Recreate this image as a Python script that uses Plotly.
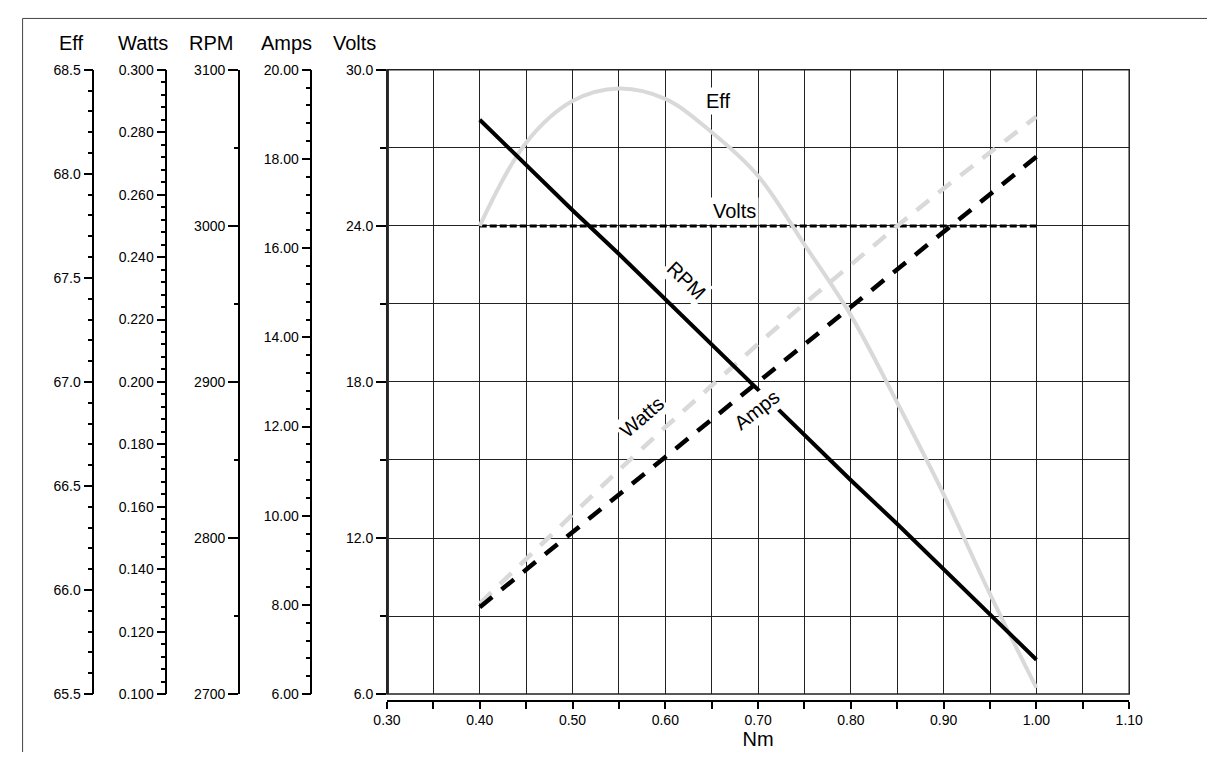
import plotly.graph_objects as go

# --- data (torque sweep) ---
nm = [0.40, 0.45, 0.50, 0.55, 0.60, 0.65, 0.70, 0.75, 0.80, 0.85, 0.90, 0.95, 1.00]
eff = [67.75, 68.15, 68.35, 68.41, 68.36, 68.20, 67.99, 67.66, 67.32, 66.90, 66.46, 65.98, 65.53]
watts = [0.129, 0.1432, 0.1576, 0.1718, 0.1855, 0.1990, 0.2122, 0.2251, 0.2377, 0.2500, 0.2620, 0.2737, 0.2850]
rpm = [3068, 3039, 3010, 2982, 2953, 2924, 2895, 2866, 2837, 2809, 2780, 2751, 2722]
amps = [7.95, 8.79, 9.63, 10.48, 11.32, 12.16, 13.00, 13.84, 14.68, 15.53, 16.37, 17.21, 18.05]
volts = [24.0, 24.0, 24.0, 24.0, 24.0, 24.0, 24.0, 24.0, 24.0, 24.0, 24.0, 24.0, 24.0]

# --- styling ---
FONT = "Liberation Sans, Arial, sans-serif"
TICK_FONT = dict(family=FONT, size=14, color="black")
LABEL_FONT = dict(family=FONT, size=20, color="black")
GRID = "#222222"
LIGHT = "#d9d9d9"

# the page body keeps its default 8px margin, so the figure is 16px smaller
# than the window and every screen position is shifted by OFF
OFF = 8
W, H = 1215 - 2 * OFF, 760 - 2 * OFF


def px(v):
    return (v - OFF) / W


def py(v):
    return 1 - (v - OFF) / H


X0, X1 = px(381.7), px(1141.7)
Y0, Y1 = py(701), py(63)


def rng(lo, hi):
    eps = (hi - lo) * 1e-6
    return [lo - eps, hi + eps]


def side_axis(pos, lo, hi, dtick, minor_dtick, fmt, ticklen=9, minor_len=5):
    return dict(
        anchor="free", position=pos, overlaying="y", side="left",
        range=rng(lo, hi), tick0=lo, dtick=dtick, tickformat=fmt,
        showline=True, linecolor="black", linewidth=1.5,
        ticks="outside", ticklen=ticklen, tickwidth=1.5, tickcolor="black",
        tickfont=TICK_FONT, showgrid=False, zeroline=False,
        minor=dict(dtick=minor_dtick, ticks="outside", ticklen=minor_len,
                   tickwidth=1.5, tickcolor="black", showgrid=False),
    )


fig = go.Figure()
fig.add_trace(go.Scatter(x=nm, y=eff, yaxis="y2", mode="lines", name="Eff",
                         line=dict(color=LIGHT, width=4, shape="spline")))
fig.add_trace(go.Scatter(x=nm, y=watts, yaxis="y3", mode="lines", name="Watts",
                         line=dict(color=LIGHT, width=4.5, dash="16px,12px")))
fig.add_trace(go.Scatter(x=nm, y=volts, yaxis="y", mode="lines", name="Volts",
                         line=dict(color="black", width=3, dash="7px,3px")))
fig.add_trace(go.Scatter(x=nm, y=rpm, yaxis="y4", mode="lines", name="RPM",
                         line=dict(color="black", width=4)))
fig.add_trace(go.Scatter(x=nm, y=amps, yaxis="y5", mode="lines", name="Amps",
                         line=dict(color="black", width=4.5, dash="16px,12px")))

# axis titles sit above each scale
titles = [("Eff", 59), ("Watts", 132), ("RPM", 202), ("Amps", 279), ("Volts", 348)]
annotations = [dict(text=t, x=px(x), y=py(36), xref="paper", yref="paper",
                    xanchor="center", yanchor="middle", showarrow=False, font=LABEL_FONT)
               for t, x in titles]

# in-plot series labels (positioned on the Volts scale)
series_labels = [
    ("Eff", 0.657, 28.8, 0),
    ("Volts", 0.675, 24.59, 0),
    ("RPM", 0.622, 21.91, 44),
    ("Watts", 0.575, 16.64, -41),
    ("Amps", 0.698, 16.94, -38),
]
for t, x, y, ang in series_labels:
    annotations.append(dict(text=t, x=x, y=y, xref="x", yref="y", showarrow=False,
                            textangle=ang, bgcolor="white", borderpad=2, font=LABEL_FONT))

fig.update_layout(
    width=W, height=H,
    margin=dict(l=0, r=0, t=0, b=0),
    plot_bgcolor="white", paper_bgcolor="white",
    showlegend=False,
    font=dict(family=FONT, color="black"),
    xaxis=dict(
        domain=[X0, X1], range=rng(0.30, 1.10), tick0=0.30, dtick=0.1, tickformat=".2f",
        anchor="free", position=py(708),
        showline=True, linecolor="black", linewidth=1.5,
        ticks="outside", ticklen=7, tickwidth=1.5, tickcolor="black", tickfont=TICK_FONT,
        showgrid=True, gridcolor=GRID, gridwidth=1, zeroline=False,
        minor=dict(dtick=0.05, ticks="outside", ticklen=7, tickwidth=1.5, tickcolor="black",
                   showgrid=True, gridcolor=GRID, gridwidth=1),
        title=dict(text="Nm", font=LABEL_FONT, standoff=2),
    ),
    yaxis=dict(
        domain=[Y0, Y1], range=rng(6, 30), tick0=6, dtick=6, tickformat=".1f",
        anchor="free", position=X0,
        showline=True, linecolor="#333333", linewidth=3,
        ticks="outside", ticklen=10, tickwidth=1.5, tickcolor="black", tickfont=TICK_FONT,
        showgrid=True, gridcolor=GRID, gridwidth=1, zeroline=False,
        minor=dict(dtick=3, ticks="outside", ticklen=6, tickwidth=1.5, tickcolor="black",
                   showgrid=True, gridcolor=GRID, gridwidth=1),
    ),
    yaxis2=side_axis(px(81), 65.5, 68.5, 0.5, 0.1, ".1f"),
    yaxis3=side_axis(px(155.7), 0.100, 0.300, 0.02, 0.004, ".3f"),
    yaxis4=side_axis(px(230), 2700, 3100, 100, 50, "d", ticklen=10, minor_len=4),
    yaxis5=side_axis(px(304.3), 6, 20, 2, 0.4, ".2f"),
    annotations=annotations,
    shapes=[
        # plot frame
        dict(type="rect", xref="x domain", yref="y domain", x0=0, x1=1, y0=0, y1=1,
             line=dict(color="#222222", width=1.5)),
        # outer border of the picture, running off the right and bottom edges
        dict(type="rect", xref="paper", yref="paper", x0=0.0005, x1=1.05, y0=-0.05,
             y1=py(10.5), line=dict(color="#444444", width=1)),
    ],
)

fig.write_html("out.html")
